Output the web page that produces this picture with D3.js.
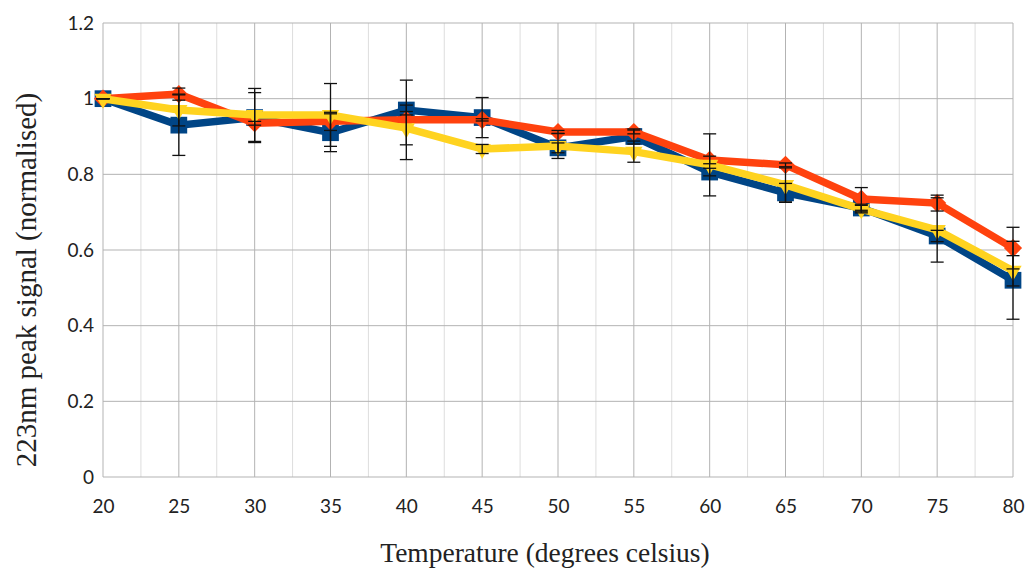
<!DOCTYPE html>
<html>
<head>
<meta charset="utf-8">
<script src="https://cdn.jsdelivr.net/npm/d3@7"></script>
<style>
  body { margin: 0; background: #fff; }
</style>
</head>
<body>
<div id="chart"></div>
<script>
// temperatures (degrees celsius)
var temps = [20, 25, 30, 35, 40, 45, 50, 55, 60, 65, 70, 75, 80];
var yTicks = [0, 0.2, 0.4, 0.6, 0.8, 1, 1.2];

// normalised 223nm peak signal, three runs
var blueVals = [1.0, 0.93, 0.95, 0.91, 0.97, 0.95, 0.87, 0.90, 0.806, 0.751, 0.711, 0.637, 0.52];
var redVals = [1.0, 1.012, 0.935, 0.94, 0.944, 0.944, 0.912, 0.912, 0.838, 0.825, 0.735, 0.724, 0.605];
var yellowVals = [1.0, 0.97, 0.957, 0.957, 0.922, 0.867, 0.875, 0.86, 0.825, 0.772, 0.708, 0.653, 0.545];

// error bar half-widths
var blueErr = [0, 0.08, 0.066, 0.05, 0.013, 0.053, 0.013, 0.02, 0.01, 0.025, 0.01, 0.015, 0.103];
var redErr = [0, 0.016, 0.005, 0.024, 0.105, 0.003, 0.004, 0.005, 0.01, 0.005, 0.03, 0.021, 0.055];
var yellowErr = [0, 0.042, 0.07, 0.083, 0.044, 0.012, 0.033, 0.028, 0.082, 0.045, 0.01, 0.085, 0.04];

var width = 1027, height = 569;
var pLeft = 103, pRight = 1013, pTop = 23, pBottom = 477;

var svg = d3.select("#chart").append("svg")
    .attr("width", width)
    .attr("height", height);

var x = d3.scaleLinear().domain([20, 80]).range([pLeft, pRight]);
var y = d3.scaleLinear().domain([0, 1.2]).range([pBottom, pTop]);

// minor vertical grid every 2.5
var minor = d3.range(22.5, 80, 5);
svg.append("g").selectAll("line").data(minor).enter().append("line")
    .attr("x1", d => x(d)).attr("x2", d => x(d))
    .attr("y1", pTop).attr("y2", pBottom)
    .attr("stroke", "#dddddd").attr("stroke-width", 1);

// major grid
svg.append("g").selectAll("line").data(temps).enter().append("line")
    .attr("x1", d => x(d)).attr("x2", d => x(d))
    .attr("y1", pTop).attr("y2", pBottom)
    .attr("stroke", "#b3b3b3").attr("stroke-width", 1);

svg.append("g").selectAll("line").data(yTicks).enter().append("line")
    .attr("x1", pLeft).attr("x2", pRight)
    .attr("y1", d => y(d)).attr("y2", d => y(d))
    .attr("stroke", "#b3b3b3").attr("stroke-width", 1);

// tick labels
var yAxis = d3.axisLeft(y).tickValues(yTicks).tickSize(0).tickPadding(9)
    .tickFormat(d => d3.format("~g")(d));
var gy = svg.append("g").attr("transform", "translate(" + pLeft + ",0)").call(yAxis);
gy.select(".domain").remove();
gy.selectAll("text").attr("font-family", "Lato, sans-serif").attr("font-size", 19).attr("fill", "#222");

var xAxis = d3.axisBottom(x).tickValues(temps).tickSize(0).tickPadding(23);
var gx = svg.append("g").attr("transform", "translate(0," + pBottom + ")").call(xAxis);
gx.select(".domain").remove();
gx.selectAll("text").attr("font-family", "Lato, sans-serif").attr("font-size", 19).attr("fill", "#222");

var series = [
  {vals: blueVals, err: blueErr, color: "#004586", shape: d3.symbolSquare, size: 280, rot: 0},
  {vals: redVals, err: redErr, color: "#ff420e", shape: d3.symbolSquare, size: 165, rot: 45},
  {vals: yellowVals, err: yellowErr, color: "#ffd320", shape: d3.symbolTriangle, size: 130, rot: 180}
];

var line = d3.line().x((d, i) => x(temps[i])).y(d => y(d));

series.forEach(function(s) {
  svg.append("path")
      .attr("d", line(s.vals))
      .attr("fill", "none")
      .attr("stroke", s.color)
      .attr("stroke-width", 7.5)
      .attr("stroke-linejoin", "miter");
  svg.append("g").selectAll("path").data(s.vals).enter().append("path")
      .attr("d", d3.symbol().type(s.shape).size(s.size))
      .attr("transform", (d, i) => "translate(" + x(temps[i]) + "," + y(d) + ") rotate(" + s.rot + ")")
      .attr("fill", s.color);
});

// error bars
series.forEach(function(s) {
  var g = svg.append("g").attr("stroke", "#111").attr("stroke-width", 1.3);
  s.vals.forEach(function(v, i) {
    var cx = x(temps[i]);
    var y1 = y(v + s.err[i]), y2 = y(v - s.err[i]);
    g.append("line").attr("x1", cx).attr("x2", cx).attr("y1", y1).attr("y2", y2);
    g.append("line").attr("x1", cx - 6.5).attr("x2", cx + 6.5).attr("y1", y1).attr("y2", y1);
    g.append("line").attr("x1", cx - 6.5).attr("x2", cx + 6.5).attr("y1", y2).attr("y2", y2);
  });
});

// axis titles
svg.append("text")
    .attr("x", 545).attr("y", 562)
    .attr("text-anchor", "middle")
    .attr("font-family", "'Liberation Serif', 'Times New Roman', serif")
    .attr("font-size", 27.5).attr("fill", "#222")
    .text("Temperature (degrees celsius)");

svg.append("text")
    .attr("transform", "translate(36,280) rotate(-90)")
    .attr("text-anchor", "middle")
    .attr("font-family", "'Liberation Serif', 'Times New Roman', serif")
    .attr("font-size", 29).attr("fill", "#222")
    .text("223nm peak signal (normalised)");
</script>
</body>
</html>
